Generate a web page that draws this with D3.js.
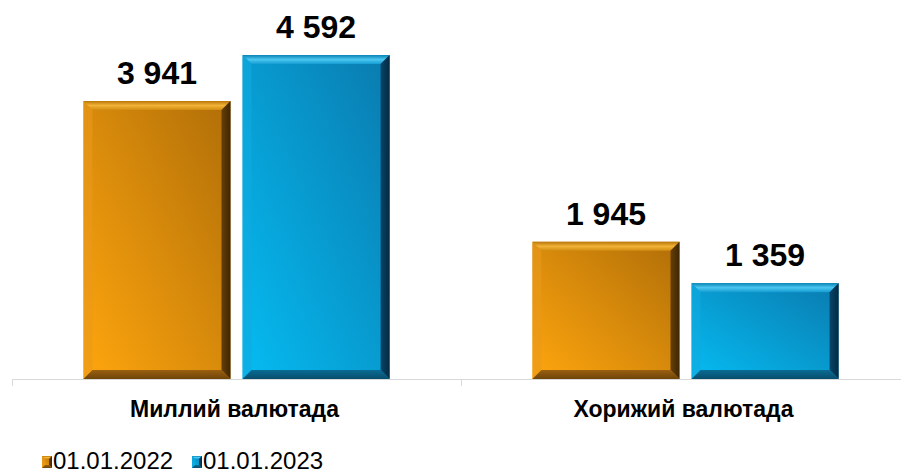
<!DOCTYPE html>
<html><head><meta charset="utf-8">
<script src="https://cdn.jsdelivr.net/npm/d3@7"></script>
<style>html,body{margin:0;padding:0;background:#fff;}svg{display:block;font-family:"Liberation Sans",Arial,sans-serif;}</style>
</head><body>
<svg id="c" width="901" height="474"></svg>
<script>
const categories = ["Миллий валютада", "Хорижий валютада"];
const seriesNames = ["01.01.2022", "01.01.2023"];
const values2022 = [3941, 1945];
const values2023 = [4592, 1359];

const series = [
  {name: seriesNames[0], values: values2022, key: "o"},
  {name: seriesNames[1], values: values2023, key: "b"}
];
const fmt = v => d3.format(",")(v).replace(/,/g, " ");

const svg = d3.select("#c");
const W = 901, H = 474;
const x0 = d3.scaleBand().domain(categories).range([12, 910]).paddingInner(0).paddingOuter(0);
const bw = x0.bandwidth();
const x1 = d3.scaleBand().domain(seriesNames).range([bw*0.159, bw*0.841]).paddingInner(0.0755);
const y = d3.scaleLinear().domain([0, 5000]).range([379, 26.3]);

const pal = {
  o: {g1:"#FFA60E", g2:"#B06E08", t0:"#B87608", t1:"#F2B338", t2:"#D08C10", left:"#EA9A1C", right:"#3E2604", bottom:"#9A6010", bottom2:"#6E4408"},
  b: {g1:"#05BCF2", g2:"#0A7AAE", t0:"#0A84B4", t1:"#4AC6F0", t2:"#149CD2", left:"#10AAE0", right:"#042A40", bottom:"#0A6C94", bottom2:"#074E6C"}
};
const defs = svg.append("defs");
Object.entries(pal).forEach(([k,p]) => {
  const g = defs.append("linearGradient").attr("id","main_"+k).attr("x1","0").attr("y1","1").attr("x2","1").attr("y2","0");
  g.append("stop").attr("offset","0").attr("stop-color",p.g1);
  g.append("stop").attr("offset","1").attr("stop-color",p.g2);
  const r = defs.append("linearGradient").attr("id","right_"+k).attr("x1","0").attr("y1","0").attr("x2","1").attr("y2","0");
  r.append("stop").attr("offset","0").attr("stop-color",d3.color(p.right).brighter(1.4));
  r.append("stop").attr("offset","1").attr("stop-color",p.right);
  const t = defs.append("linearGradient").attr("id","top_"+k).attr("x1","0").attr("y1","0").attr("x2","0").attr("y2","1");
  t.append("stop").attr("offset","0").attr("stop-color",p.t0);
  t.append("stop").attr("offset","0.5").attr("stop-color",p.t1);
  t.append("stop").attr("offset","1").attr("stop-color",p.t2);
  const bt = defs.append("linearGradient").attr("id","bot_"+k).attr("x1","0").attr("y1","0").attr("x2","0").attr("y2","1");
  bt.append("stop").attr("offset","0").attr("stop-color",p.bottom);
  bt.append("stop").attr("offset","1").attr("stop-color",p.bottom2);
});

// axis line
const axisG = svg.append("g");
axisG.append("line").attr("x1", x0.range()[0]).attr("x2", W).attr("y1", y(0)+0.5).attr("y2", y(0)+0.5)
  .attr("stroke","#D9D9D9").attr("stroke-width",1);
[x0.range()[0], x0(categories[1]), x0.range()[1]].forEach(t => {
  axisG.append("line").attr("x1", Math.round(t)+0.5).attr("x2", Math.round(t)+0.5).attr("y1", y(0)).attr("y2", y(0)+7)
    .attr("stroke","#D9D9D9");
});

function bevelBar(g, xL, yT, w, h, k, b) {
  const xR = xL + w, yB = yT + h;
  b = Math.min(b, w/2, h/2);
  g.append("rect").attr("x", xL).attr("y", yT).attr("width", w).attr("height", h).attr("fill", `url(#main_${k})`);
  const poly = (pts, fill, op) => g.append("polygon").attr("points", pts.map(p=>p.join(",")).join(" ")).attr("fill", fill).attr("opacity", op||1);
  poly([[xL,yT],[xR,yT],[xR-b,yT+b],[xL+b,yT+b]], `url(#top_${k})`);
  poly([[xL,yT],[xL+b,yT+b],[xL+b,yB-b],[xL,yB]], pal[k].left, 0.6);
  poly([[xR,yT],[xR,yB],[xR-b,yB-b],[xR-b,yT+b]], `url(#right_${k})`);
  poly([[xL,yB],[xL+b,yB-b],[xR-b,yB-b],[xR,yB]], `url(#bot_${k})`);
}

const groups = svg.append("g").selectAll("g").data(categories).join("g")
  .attr("transform", d => `translate(${x0(d)},0)`);
groups.each(function(cat, ci) {
  const g = d3.select(this);
  series.forEach(s => {
    const v = s.values[ci];
    const bx = x1(s.name);
    bevelBar(g.append("g"), bx, y(v), x1.bandwidth(), y(0)-y(v), s.key, 9);
    g.append("text").attr("x", bx + x1.bandwidth()/2).attr("y", y(v) - 17)
      .attr("text-anchor","middle").attr("font-size", 32).attr("font-weight","bold").attr("fill","#000")
      .text(fmt(v));
  });
  g.append("text").attr("x", bw/2 - 2).attr("y", 417).attr("text-anchor","middle")
    .attr("font-size", 23).attr("font-weight","bold").attr("fill","#000").text(cat);
});

// legend
const lg = svg.append("g");
const legX = [42, 192];
series.forEach((s, i) => {
  const g = lg.append("g");
  bevelBar(g, legX[i], 456, 10, 12, s.key, 3);
  g.append("text").attr("x", legX[i] + 11).attr("y", 469).attr("font-size", 24).attr("fill","#000").text(s.name);
});
</script>
</body></html>
